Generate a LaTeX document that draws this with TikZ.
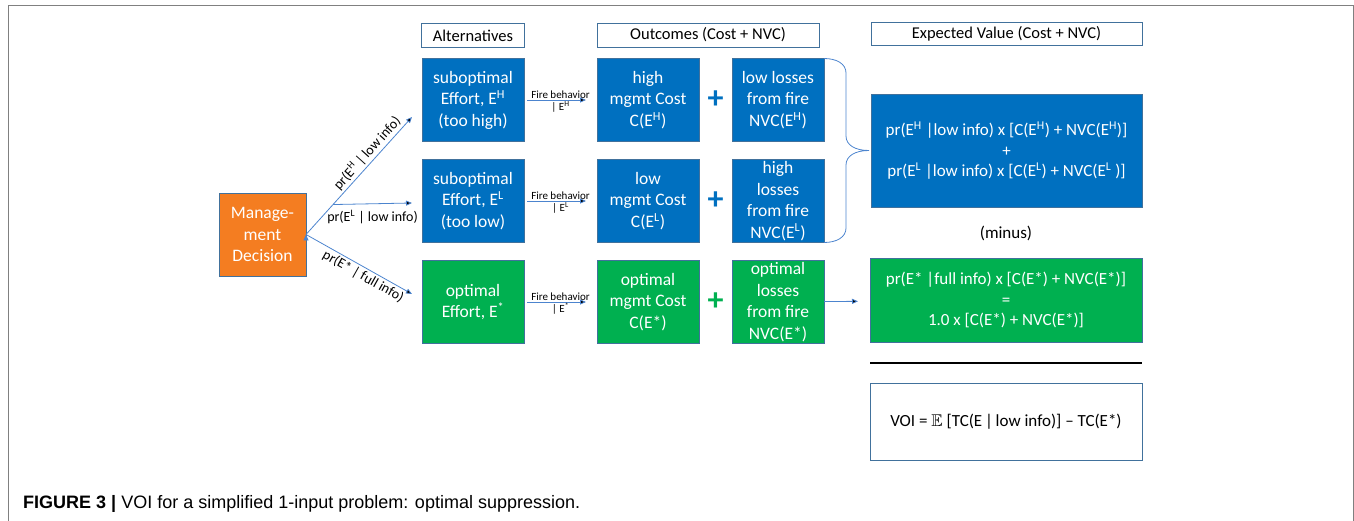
\documentclass[tikz,border=0pt]{standalone}
\usepackage{amssymb}
\usepackage{fontspec}
\setmainfont{Carlito}
\newfontfamily\capfont{Liberation Sans}
\usetikzlibrary{positioning, calc, arrows.meta}

\definecolor{effblue}{RGB}{0,112,192}
\definecolor{effgreen}{RGB}{0,176,80}
\definecolor{mgmtorange}{RGB}{244,125,33}
\definecolor{edgeblue}{RGB}{65,113,156}
\definecolor{flowblue}{RGB}{76,132,206}

\tikzset{
	box/.style={draw=edgeblue, line width=0.8pt, text=white, align=center, inner sep=0pt, outer sep=0pt,
		minimum width=102pt, minimum height=83pt, font=\fontsize{17.5}{21.5}\selectfont},
	bluebox/.style={box, fill=effblue},
	greenbox/.style={box, fill=effgreen},
	nvcbox/.style={minimum width=92pt},
	evbox/.style={font=\fontsize{17}{20.5}\selectfont},
	headbox/.style={draw=edgeblue, line width=0.8pt, fill=white, align=center, inner sep=0pt, outer sep=0pt,
		minimum height=24pt, font=\fontsize{16.5}{20}\selectfont},
	flow/.style={draw=flowblue, line width=0.8pt, -{Triangle[length=6pt,width=5pt]}},
	firearrow/.style={flow, shorten <=3pt, shorten >=11pt},
	arrowlabel/.style={font=\fontsize{14}{16}\selectfont, text=black, inner sep=2pt},
	firetext/.style={font=\fontsize{11}{12}\selectfont, text=black, inner sep=1pt},
	plussign/.style={font=\fontsize{32}{32}\bfseries\selectfont, inner sep=0pt},
	bracket/.style={draw=flowblue, line width=0.8pt},
	frame/.style={draw=black!50, line width=1pt}
}

\begin{document}
\begin{tikzpicture}[x=1pt, y=-1pt]
	\useasboundingbox (0,0) rectangle (1354,521);
	\draw[frame] (8,521) -- (8,6) -- (1353,6) -- (1353,521);

	\node[box, fill=mgmtorange, minimum width=87pt] (dec) at (262.5,234.5) {Manage-\\ment\\Decision};

	% alternatives
	\node[bluebox] (altH) at (473,100) {suboptimal\\Effort, E\textsuperscript{H}\\(too high)};
	\node[bluebox] (altL) [below=18pt of altH] {suboptimal\\Effort, E\textsuperscript{L}\\(too low)};
	\node[greenbox] (altS) [below=18pt of altL] {optimal\\Effort, E\textsuperscript{*}};
	\node[headbox, minimum width=103pt] (altHead) [above=11pt of altH] {Alternatives};

	% outcomes
	\node[bluebox] (costH) [right=73pt of altH] {high\\mgmt Cost\\C(E\textsuperscript{H})};
	\node[bluebox, nvcbox] (nvcH) [right=33pt of costH] {low losses\\from fire\\NVC(E\textsuperscript{H})};
	\node[bluebox] (costL) [right=73pt of altL] {low\\mgmt Cost\\C(E\textsuperscript{L})};
	\node[bluebox, nvcbox] (nvcL) [right=33pt of costL] {high\\losses\\from fire\\NVC(E\textsuperscript{L})};
	\node[greenbox] (costS) [right=73pt of altS] {optimal\\mgmt Cost\\C(E*)};
	\node[greenbox, nvcbox] (nvcS) [right=33pt of costS] {optimal\\losses\\from fire\\NVC(E*)};
	\node[headbox, minimum width=222pt] (outHead) at (708,35) {Outcomes (Cost + NVC)};

	\node[plussign, text=effblue] (plusH) at ($(costH.east)!.5!(nvcH.west)$) {+};
	\node[plussign, text=effblue] (plusL) at ($(costL.east)!.5!(nvcL.west)$) {+};
	\node[plussign, text=effgreen] (plusS) at ($(costS.east)!.5!(nvcS.west)$) {+};

	% expected values
	\node[headbox, minimum width=271pt, minimum height=23pt] (evHead) at (1006.5,33.5) {Expected Value (Cost + NVC)};
	\node[bluebox, evbox, minimum width=271pt, minimum height=113pt] (evLow) at (1006.5,150.5)
		{pr(E\textsuperscript{H} |low info) x [C(E\textsuperscript{H}) + NVC(E\textsuperscript{H})]\\+\\pr(E\textsuperscript{L} |low info) x [C(E\textsuperscript{L}) + NVC(E\textsuperscript{L} )]};
	\node[font=\fontsize{17}{20}\selectfont] (minus) at (1006,233) {(minus)};
	\node[greenbox, evbox, minimum width=272pt, minimum height=84pt] (evFull) at (1006,300)
		{pr(E* |full info) x [C(E*) + NVC(E*)]\\=\\1.0 x [C(E*) + NVC(E*)]};
	\draw[line width=2pt] ([yshift=-21pt]evFull.south west) -- ([yshift=-21pt]evFull.south east);
	\node[headbox, evbox, minimum width=272pt, minimum height=77pt] (voi) at (1006,421.5)
		{VOI = $\mathbb{E}$ [TC(E\,|\,low info)] -- TC(E*)};

	\coordinate (tipH) at ($(altH.west)+(-10,17)$);
	\coordinate (tipL) at ($(altL.west)+(-10,2)$);
	\coordinate (tipS) at ($(altS.west)+(-10,-8)$);
	\coordinate (fork) at ($(dec.east)!.255!(tipH)$);

	\path[flow]
	(dec.east) edge node[arrowlabel, sloped, above, pos=.64] {pr(E\textsuperscript{H} | low info)} (tipH)
	(fork) edge node[arrowlabel, below, yshift=-4pt] {pr(E\textsuperscript{L} | low info)} (tipL)
	(dec.east) edge node[arrowlabel, sloped, below, pos=.58] {pr(E* | full info)} (tipS);

	\path[firearrow]
	(altH) edge node[firetext, above] {Fire behavior} node[firetext, below] {| E\textsuperscript{H}} (costH)
	(altL) edge node[firetext, above] {Fire behavior} node[firetext, below] {| E\textsuperscript{L}} (costL)
	(altS) edge node[firetext, above] {Fire behavior} node[firetext, below] {| E\textsuperscript{*}} (costS);

	\path[flow] (nvcS) edge[shorten >=12pt] (evFull);

	\draw[bracket] (nvcH.north east) .. controls (837,58.5) and (846,64) .. (846,73)
		-- (846,136) .. controls (846,145) and (855,150.5) .. (869,150.5)
		.. controls (855,150.5) and (846,156) .. (846,165)
		-- (846,228) .. controls (846,237) and (837,242.5) .. (nvcL.south east);

	\node[anchor=base west, inner sep=0pt, font=\capfont\fontsize{18}{20}\selectfont] (caption) at (23,508)
		{\textbf{FIGURE 3 |} VOI for a simplified 1-input problem: optimal suppression.};
\end{tikzpicture}
\end{document}
